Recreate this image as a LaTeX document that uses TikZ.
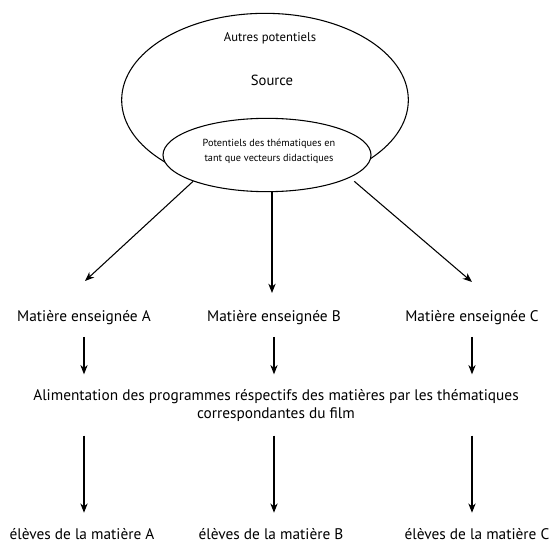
\documentclass[tikz,border=0pt]{standalone}
\usepackage{fontspec}
\setmainfont{PT Sans}
\usetikzlibrary{arrows.meta}
\usetikzlibrary{shapes.geometric}

\begin{document}
\begin{tikzpicture}[x=0.75pt,y=-0.75pt,>={Stealth[length=7pt,width=5.5pt]},
  line width=0.8pt,
  label/.style={font=\fontsize{11.5}{13.5}\selectfont},
  bubble/.style={draw,shape=ellipse,inner sep=0pt}]
\useasboundingbox (0,0) rectangle (550,542);
\node[bubble,minimum width=215pt,minimum height=130pt] (S) at (265,100) {};
\node[bubble,minimum width=156pt,minimum height=55pt,fill=white] (P) at (267,155) {};
\node[font=\fontsize{9.5}{11}\selectfont] (autres) at (270,38) {Autres potentiels};
\node[font=\fontsize{11}{13}\selectfont] (src) at (272,80) {Source};
\node[font=\fontsize{7.7}{11.5}\selectfont,align=center] (pot) at (269,151) {Potentiels des thématiques en\\tant que vecteurs didactiques};
\node[label] (matA) at (84,318) {Matière enseignée A};
\node[label] (matB) at (274,318) {Matière enseignée B};
\node[label] (matC) at (472,318) {Matière enseignée C};
\node[label,align=center] (alim) at (276,406) {Alimentation des programmes réspectifs des matières par les thématiques\\correspondantes du film};
\node[label] (eleA) at (82,534) {élèves de la matière A};
\node[label] (eleB) at (271,534) {élèves de la matière B};
\node[label] (eleC) at (477,534) {élèves de la matière C};
% pointes des fleches du haut
\coordinate (tA) at (85,281);
\coordinate (tB) at (272,293);
\coordinate (tC) at (472,282);
\draw [->] (P.south west) -- (tA);
\draw [->] (P.south -| tB) -- (tB);
\draw [->] ([xshift=10pt]P.south east) -- (tC);
\draw [->,shorten <=5pt,shorten >=8pt] (matA.south) -- (matA.south |- alim.north);
\draw [->,shorten <=5pt,shorten >=8pt] (matB.south) -- (matB.south |- alim.north);
\draw [->,shorten <=5pt,shorten >=8pt] (matC.south) -- (matC.south |- alim.north);
\draw [->,shorten <=6.5pt,shorten >=8pt] (alim.south -| matA) -- (eleA.north -| matA);
\draw [->,shorten <=6.5pt,shorten >=8pt] (alim.south -| matB) -- (eleB.north -| matB);
\draw [->,shorten <=6.5pt,shorten >=8pt] (alim.south -| matC) -- (eleC.north -| matC);
\end{tikzpicture}
\end{document}
